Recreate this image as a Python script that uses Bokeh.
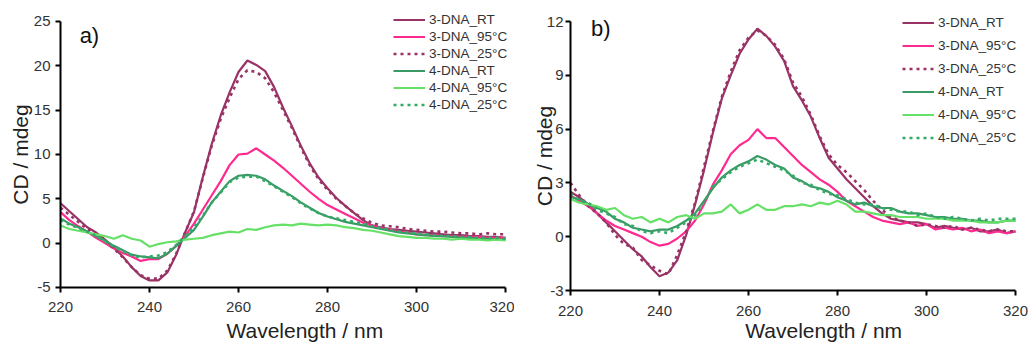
from bokeh.plotting import figure
from bokeh.layouts import row
from bokeh.models import Legend, LegendItem, Label, FixedTicker
from bokeh.embed import file_html
from bokeh.resources import INLINE

FONT = "Liberation Sans"

wavelength = list(range(220, 321, 2))

series_names = ["3-DNA_RT", "3-DNA_95°C", "3-DNA_25°C", "4-DNA_RT", "4-DNA_95°C", "4-DNA_25°C"]
series_colors = ["#993366", "#FF2A90", "#993366", "#3A9A66", "#66E066", "#33AA66"]
series_dash = ["solid", "solid", "3 4", "solid", "solid", "3 4"]

# ---- panel a) ----
a_3dna_rt = [4.5, 3.6, 2.7, 1.8, 1.2, 0.4, -0.5, -1.5, -2.7, -3.7, -4.2, -4.2, -3.3, -1.3, 1.2,
             3.5, 7.5, 11.2, 14.4, 17.0, 19.3, 20.6, 20.1, 19.4, 17.6, 15.3, 13.2, 11.0, 9.0, 7.4,
             6.2, 5.1, 4.2, 3.4, 2.6, 2.0, 1.8, 1.6, 1.5, 1.4, 1.3, 1.2, 1.1, 1.0, 0.9,
             0.9, 0.8, 0.8, 0.7, 0.7, 0.6]
a_3dna_95 = [3.5, 2.6, 1.9, 1.3, 0.6, 0.0, -0.6, -1.1, -1.5, -2.0, -1.8, -1.8, -1.2, -0.3, 0.8,
             2.2, 3.8, 5.4, 7.0, 8.8, 10.0, 10.1, 10.7, 10.0, 9.3, 8.5, 7.6, 6.7, 5.8, 5.0,
             4.3, 3.8, 3.3, 2.8, 2.3, 2.0, 1.7, 1.5, 1.3, 1.2, 1.0, 0.9, 0.9, 0.8, 0.8,
             0.7, 0.7, 0.7, 0.6, 0.6, 0.6]
a_3dna_25 = [4.0, 3.2, 2.4, 1.6, 1.0, 0.3, -0.6, -1.6, -2.7, -3.6, -4.0, -4.0, -3.1, -1.2, 1.2,
             3.6, 7.4, 11.0, 14.0, 16.4, 18.5, 19.5, 19.3, 18.6, 17.0, 15.0, 13.0, 10.8, 8.8, 7.2,
             6.0, 5.0, 4.2, 3.4, 2.8, 2.3, 2.0, 1.9, 1.8, 1.6, 1.5, 1.4, 1.3, 1.3, 1.2,
             1.1, 1.1, 1.0, 1.1, 1.0, 1.0]
a_4dna_rt = [2.8, 2.2, 1.8, 1.3, 0.8, 0.3, -0.3, -0.8, -1.3, -1.5, -1.6, -1.7, -1.2, -0.3, 0.6,
             1.5, 3.0, 4.6, 5.8, 7.0, 7.6, 7.7, 7.6, 7.2, 6.5, 5.9, 5.3, 4.6, 4.0, 3.4,
             3.0, 2.7, 2.4, 2.2, 2.0, 1.8, 1.6, 1.4, 1.2, 1.1, 1.0, 0.9, 0.8, 0.8, 0.7,
             0.6, 0.6, 0.5, 0.5, 0.4, 0.4]
a_4dna_95 = [2.0, 1.6, 1.4, 1.2, 1.0, 0.8, 0.5, 0.9, 0.5, 0.3, -0.4, -0.1, 0.1, 0.2, 0.4,
             0.5, 0.6, 0.9, 1.1, 1.3, 1.2, 1.6, 1.5, 1.8, 2.0, 2.1, 2.0, 2.2, 2.1, 2.0,
             2.1, 2.0, 1.8, 1.7, 1.5, 1.4, 1.2, 1.0, 0.8, 0.7, 0.6, 0.6, 0.5, 0.5, 0.4,
             0.5, 0.4, 0.4, 0.3, 0.4, 0.3]
a_4dna_25 = [2.6, 2.1, 1.7, 1.3, 0.8, 0.2, -0.4, -0.9, -1.4, -1.6, -1.5, -1.4, -1.0, -0.2, 0.8,
             1.8, 3.1, 4.6, 5.7, 6.9, 7.4, 7.5, 7.5, 7.0, 6.4, 5.8, 5.2, 4.5, 3.9, 3.4,
             3.0, 2.8, 2.6, 2.4, 2.2, 1.9, 1.7, 1.5, 1.3, 1.2, 1.1, 1.0, 0.9, 0.8, 0.8,
             0.7, 0.7, 0.6, 0.6, 0.6, 0.5]

# ---- panel b) ----
b_3dna_rt = [2.5, 2.2, 1.8, 1.3, 0.8, 0.3, -0.2, -0.7, -1.1, -1.7, -2.2, -2.0, -1.3, 0.1, 1.8,
             3.7, 5.8, 7.7, 9.0, 10.2, 11.0, 11.6, 11.2, 10.6, 9.8, 8.4, 7.6, 6.7, 5.5, 4.4,
             3.8, 3.2, 2.7, 2.2, 1.7, 1.3, 1.0, 0.9, 0.8, 0.8, 0.7, 0.5, 0.6, 0.5, 0.4,
             0.5, 0.3, 0.3, 0.4, 0.2, 0.3]
b_3dna_95 = [2.3, 2.0, 1.7, 1.3, 0.9, 0.6, 0.4, 0.2, 0.0, -0.3, -0.5, -0.4, -0.1, 0.3, 0.9,
             1.8, 2.9, 3.7, 4.6, 5.1, 5.4, 6.0, 5.5, 5.5, 5.0, 4.5, 4.0, 3.6, 3.2, 2.9,
             2.5, 2.0, 1.7, 1.4, 1.1, 0.9, 0.8, 0.7, 0.8, 0.6, 0.7, 0.4, 0.5, 0.4, 0.5,
             0.3, 0.4, 0.2, 0.3, 0.2, 0.3]
b_3dna_25 = [3.0, 2.3, 1.7, 1.3, 0.8, 0.1, -0.4, -0.6, -1.3, -1.6, -1.9, -2.1, -1.0, 0.3, 1.9,
             3.9, 5.9, 7.8, 9.2, 10.4, 11.1, 11.5, 11.2, 10.7, 9.9, 8.6, 7.8, 6.8, 5.6, 4.6,
             4.0, 3.6, 3.1, 2.6, 2.0, 1.5, 1.1, 0.9, 0.8, 0.6, 0.7, 0.6, 0.5, 0.6, 0.4,
             0.5, 0.4, 0.3, 0.4, 0.3, 0.3]
b_4dna_rt = [2.2, 2.1, 1.8, 1.6, 1.4, 1.0, 0.8, 0.5, 0.4, 0.3, 0.4, 0.4, 0.6, 0.9, 1.3,
             2.0, 2.7, 3.3, 3.7, 4.0, 4.2, 4.5, 4.3, 4.0, 3.8, 3.3, 3.1, 2.8, 2.7, 2.5,
             2.2, 2.0, 1.8, 1.9, 1.7, 1.6, 1.6, 1.4, 1.3, 1.3, 1.2, 1.1, 1.1, 1.0, 1.0,
             0.9, 0.9, 0.8, 0.8, 0.9, 0.9]
b_4dna_95 = [2.1, 1.9, 1.8, 1.7, 1.5, 1.6, 1.2, 1.0, 1.1, 0.8, 1.0, 0.8, 1.1, 1.2, 1.0,
             1.3, 1.3, 1.4, 1.8, 1.3, 1.5, 1.8, 1.5, 1.5, 1.7, 1.7, 1.8, 1.7, 1.9, 1.8,
             2.0, 1.8, 1.4, 1.4, 1.3, 1.2, 1.2, 1.1, 1.1, 1.1, 1.0, 1.0, 1.0, 0.9, 0.9,
             0.9, 0.8, 0.8, 0.8, 0.9, 0.9]
b_4dna_25 = [2.4, 2.0, 1.9, 1.5, 1.3, 1.1, 0.7, 0.6, 0.3, 0.2, 0.3, 0.2, 0.5, 0.8, 1.2,
             1.9, 2.8, 3.2, 3.6, 3.9, 4.1, 4.3, 4.1, 3.9, 3.7, 3.4, 3.0, 2.9, 2.6, 2.4,
             2.3, 2.1, 1.9, 1.8, 1.8, 1.6, 1.5, 1.4, 1.4, 1.2, 1.3, 1.1, 1.0, 1.1, 1.0,
             0.9, 1.0, 0.9, 1.0, 1.0, 1.0]

x_ticks = [220, 240, 260, 280, 300, 320]
a_y_ticks = [-5, 0, 5, 10, 15, 20, 25]
b_y_ticks = [-3, 0, 3, 6, 9, 12]

FIG_W = 514
FIG_H = 343


def make_panel(series, y_axis_span, x_view, y_view, y_ticks, tag, tag_x, tag_y,
               legend_loc, row_h, ytick_standoff, ylabel_standoff, xlabel_x, xlabel_y):
    p = figure(x_range=x_view, y_range=y_view,
               frame_width=FIG_W, frame_height=FIG_H,
               min_border_left=0, min_border_right=0,
               min_border_top=0, min_border_bottom=0,
               output_backend="svg", toolbar_location=None,
               background_fill_color="white", border_fill_color="white")
    p.outline_line_color = None
    p.grid.visible = False

    items = []
    for name, ys, col, dash in zip(series_names, series, series_colors, series_dash):
        r = p.line(wavelength, ys, line_color=col, line_width=2.2 if dash == "solid" else 2.6,
                   line_dash=dash)
        items.append(LegendItem(label=name, renderers=[r]))

    for ax in (p.xaxis[0], p.yaxis[0]):
        ax.axis_line_color = "black"
        ax.axis_line_width = 2
        ax.major_tick_line_color = "black"
        ax.major_tick_line_width = 2
        ax.major_tick_out = 5
        ax.major_tick_in = 0
        ax.minor_tick_line_color = None
        ax.major_label_text_font = FONT
        ax.major_label_text_font_size = "15px"
        ax.major_label_text_color = "#333333"

    p.xaxis.ticker = FixedTicker(ticks=x_ticks)
    p.yaxis.ticker = FixedTicker(ticks=y_ticks)
    p.xaxis.fixed_location = y_axis_span[0]
    p.xaxis.bounds = (220, 320)
    p.yaxis.fixed_location = 220
    p.yaxis.bounds = y_axis_span
    p.xaxis.major_label_standoff = 10
    p.yaxis.major_label_standoff = ytick_standoff
    p.yaxis.major_label_overrides = {t: str(t) for t in y_ticks}

    p.yaxis.axis_label = "CD / mdeg"
    p.yaxis.axis_label_text_font = FONT
    p.yaxis.axis_label_text_font_size = "21px"
    p.yaxis.axis_label_text_font_style = "normal"
    p.yaxis.axis_label_text_color = "#222222"
    p.yaxis.axis_label_standoff = ylabel_standoff

    p.add_layout(Label(x=xlabel_x, y=xlabel_y,
                       text="Wavelength / nm", text_font=FONT, text_font_size="21px",
                       text_color="#222222", text_align="center", text_baseline="middle"))

    p.add_layout(Label(x=tag_x, y=tag_y, text=tag, text_font=FONT, text_font_size="22px",
                       text_color="#111111", text_align="left", text_baseline="middle"))

    legend = Legend(items=items, location=legend_loc, orientation="vertical",
                    background_fill_alpha=0, border_line_color=None,
                    padding=0, margin=0, spacing=0,
                    glyph_width=32, glyph_height=row_h, label_height=row_h,
                    label_standoff=4, label_text_font=FONT, label_text_font_size="13.5px",
                    label_text_color="#333333")
    p.add_layout(legend, "center")
    return p


pa = make_panel([a_3dna_rt, a_3dna_95, a_3dna_25, a_4dna_rt, a_4dna_95, a_4dna_25],
                (-5, 25), (206.517, 322.022), (-11.316, 27.368), a_y_ticks,
                "a)", 224.3, 23.4, (393, 230), 17, 5, -1, 274.9, -9.8)
pb = make_panel([b_3dna_rt, b_3dna_95, b_3dna_25, b_4dna_rt, b_4dna_95, b_4dna_25],
                (-3, 12), (207.416, 322.921), (-5.955, 13.171), b_y_ticks,
                "b)", 224.6, 11.6, (388, 194), 23, 2, -12, 276.9, -5.23)

layout = row(pa, pb, spacing=0)
open("out.html", "w").write(file_html(layout, INLINE))
